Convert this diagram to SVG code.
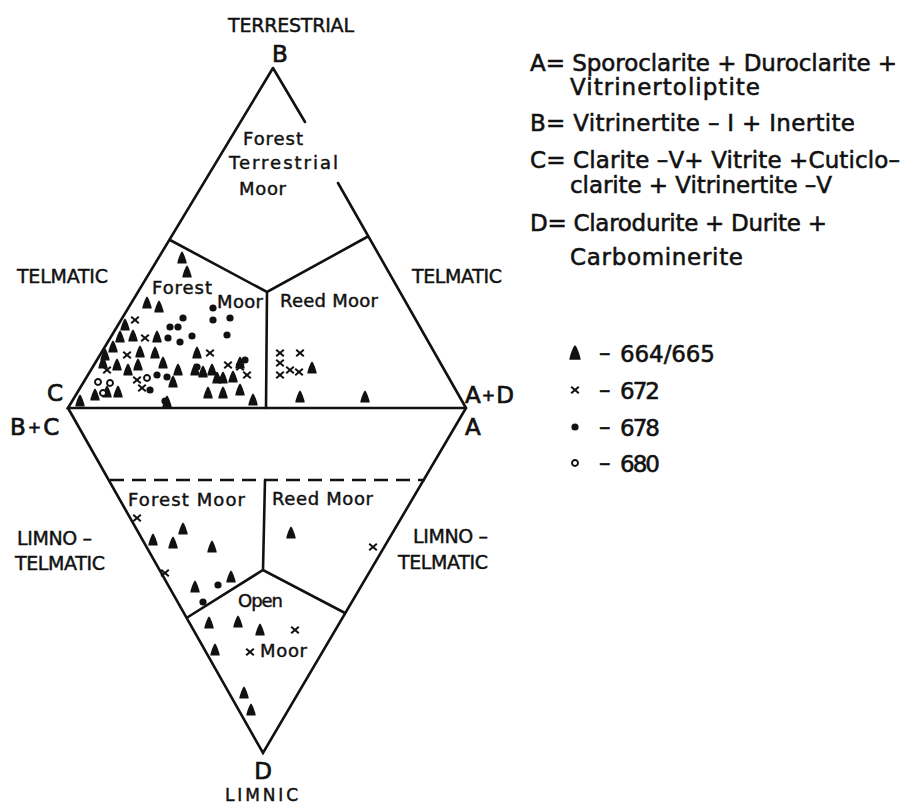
<svg xmlns="http://www.w3.org/2000/svg" width="906" height="806" viewBox="0 0 906 806">
<style>
.ln{fill:none;stroke:#111;stroke-width:2.6;stroke-linejoin:miter;stroke-linecap:round}
.ds{fill:none;stroke:#111;stroke-width:2.6;stroke-dasharray:14 8}
text{font-family:"DejaVu Sans","Liberation Sans",sans-serif;fill:#111;stroke:#111;stroke-width:0.45}
.lab{font-size:18px}
.cap{font-size:19px}
.big{font-size:23px;stroke-width:0.7}
.pl{font-size:16px}
.leg{font-size:23px;stroke-width:0.55}
</style>
<defs>
<path id="tri" d="M0,-6.5 C1.2,-6.5 4.7,3 4.7,5.6 L-4.7,5.6 C-4.7,3 -1.2,-6.5 0,-6.5 Z" fill="#111"/>
<path id="x" d="M-3.8,-3.3 L3.8,3.3 M-3.8,3.3 L3.8,-3.3" stroke="#111" stroke-width="2" fill="none"/>
<circle id="dot" r="3.6" fill="#111"/>
<circle id="ring" r="3" fill="#fff" stroke="#111" stroke-width="1.9"/>
</defs>
<rect width="906" height="806" fill="#fff"/>

<g id="connectors">
<path class="ln" d="M273,68 L68,408 L466,408 M273,68 L305,122 M338,183 L466,408"/>
<path class="ln" d="M170,240 L267,292 L367,237 M267,292 L266,408"/>
<path class="ln" d="M68,408 L263,753 L466,408"/>
<path class="ds" d="M110,480 L425,480"/>
<path class="ln" d="M265,480 L263,570 M188,617 L263,570 L345,613"/>
</g>

<g id="vertex-labels">
<text class="cap" x="228" y="32" textLength="126">TERRESTRIAL</text>
<text class="big" x="280" y="62" text-anchor="middle">B</text>
<text class="big" x="55" y="401" text-anchor="middle">C</text>
<text class="big" x="10" y="435">B<tspan class="pl" dx="2" dy="-2">+</tspan><tspan dx="2" dy="2">C</tspan></text>
<text class="big" x="465" y="403">A<tspan class="pl" dx="1" dy="-2">+</tspan><tspan dx="1" dy="2">D</tspan></text>
<text class="big" x="465" y="435">A</text>
<text class="big" x="263" y="779" text-anchor="middle">D</text>
<text class="cap" x="225" y="801" textLength="73" style="font-size:17px">LIMNIC</text>
<text class="cap" x="17" y="283" textLength="91">TELMATIC</text>
<text class="cap" x="412" y="283" textLength="90">TELMATIC</text>
<text class="cap" x="17" y="545" textLength="75">LIMNO –</text>
<text class="cap" x="15" y="570" textLength="90">TELMATIC</text>
<text class="cap" x="413" y="543" textLength="75">LIMNO –</text>
<text class="cap" x="398" y="569" textLength="90">TELMATIC</text>
</g>

<g id="forest-terrestrial-moor">
<text class="lab" x="243" y="145" textLength="60">Forest</text>
<text class="lab" x="229" y="169" textLength="109">Terrestrial</text>
<text class="lab" x="239" y="195" textLength="47">Moor</text>
</g>

<g id="telmatic-forest-moor">
<text class="lab" x="152" y="294" textLength="60">Forest</text>
<text class="lab" x="217" y="308" textLength="46">Moor</text>
<g id="pts-tfm">
<use href="#tri" x="182" y="258"/><use href="#tri" x="187" y="272"/>
<use href="#tri" x="147" y="303"/><use href="#tri" x="159" y="307"/>
<use href="#tri" x="125" y="325"/><use href="#tri" x="120" y="337"/>
<use href="#tri" x="133" y="336"/><use href="#tri" x="157" y="337"/>
<use href="#tri" x="113" y="347"/><use href="#tri" x="140" y="352"/>
<use href="#tri" x="155" y="353"/><use href="#tri" x="105" y="355"/>
<use href="#tri" x="197" y="353"/><use href="#tri" x="103" y="363"/>
<use href="#tri" x="117" y="365"/><use href="#tri" x="128" y="370"/>
<use href="#tri" x="138" y="365"/><use href="#tri" x="163" y="363"/>
<use href="#tri" x="178" y="370"/><use href="#tri" x="195" y="370"/>
<use href="#tri" x="203" y="372"/><use href="#tri" x="212" y="370"/>
<use href="#tri" x="217" y="378"/><use href="#tri" x="223" y="378"/>
<use href="#tri" x="233" y="377"/><use href="#tri" x="240" y="363"/>
<use href="#tri" x="173" y="382"/><use href="#tri" x="107" y="392"/>
<use href="#tri" x="95" y="395"/><use href="#tri" x="118" y="392"/>
<use href="#tri" x="208" y="393"/><use href="#tri" x="223" y="393"/>
<use href="#tri" x="240" y="390"/><use href="#tri" x="253" y="400"/>
<use href="#tri" x="80" y="401"/><use href="#tri" x="167" y="402"/>
<use href="#x" x="135" y="320"/><use href="#x" x="145" y="338"/>
<use href="#x" x="127" y="355"/><use href="#x" x="107" y="370"/>
<use href="#x" x="137" y="380"/><use href="#x" x="142" y="388"/>
<use href="#x" x="210" y="353"/><use href="#x" x="228" y="365"/>
<use href="#x" x="247" y="375"/><use href="#x" x="240" y="367"/>
<use href="#dot" x="213" y="308"/><use href="#dot" x="183" y="318"/>
<use href="#dot" x="213" y="320"/><use href="#dot" x="230" y="318"/>
<use href="#dot" x="170" y="327"/><use href="#dot" x="178" y="327"/>
<use href="#dot" x="192" y="336"/><use href="#dot" x="227" y="335"/>
<use href="#dot" x="168" y="338"/><use href="#dot" x="180" y="342"/>
<use href="#dot" x="157" y="375"/><use href="#dot" x="167" y="377"/>
<use href="#dot" x="197" y="367"/><use href="#dot" x="150" y="390"/>
<use href="#dot" x="165" y="401"/><use href="#dot" x="245" y="360"/>
<use href="#ring" x="98" y="382"/><use href="#ring" x="110" y="383"/>
<use href="#ring" x="103" y="393"/><use href="#ring" x="147" y="378"/>
</g>
</g>

<g id="telmatic-reed-moor">
<text class="lab" x="280" y="307" textLength="98">Reed Moor</text>
<use href="#x" x="280" y="353"/><use href="#x" x="300" y="353"/>
<use href="#x" x="280" y="363"/><use href="#x" x="290" y="370"/>
<use href="#x" x="280" y="375"/><use href="#x" x="299" y="372"/>
<use href="#tri" x="312" y="368"/><use href="#tri" x="300" y="397"/>
<use href="#tri" x="365" y="397"/>
</g>

<g id="limno-forest-moor">
<text class="lab" x="128" y="506" textLength="117">Forest Moor</text>
<use href="#x" x="137" y="518"/><use href="#x" x="165" y="573"/>
<use href="#tri" x="183" y="529"/><use href="#tri" x="153" y="540"/>
<use href="#tri" x="173" y="543"/><use href="#tri" x="212" y="547"/>
<use href="#tri" x="195" y="587"/><use href="#tri" x="231" y="577"/>
<use href="#dot" x="218" y="585"/><use href="#dot" x="203" y="602"/>
</g>

<g id="limno-reed-moor">
<text class="lab" x="272" y="505" textLength="101">Reed Moor</text>
<use href="#tri" x="291" y="533"/>
<use href="#x" x="373" y="547"/>
</g>

<g id="open-moor">
<text class="lab" x="238" y="607" textLength="45">Open</text>
<text class="lab" x="260" y="657" textLength="47">Moor</text>
<use href="#tri" x="209" y="623"/><use href="#tri" x="238" y="622"/>
<use href="#tri" x="260" y="630"/><use href="#tri" x="215" y="650"/>
<use href="#tri" x="244" y="693"/><use href="#tri" x="251" y="710"/>
<use href="#x" x="295" y="630"/><use href="#x" x="250" y="652"/>
</g>

<g id="legend-definitions">
<text class="leg" x="530" y="71" textLength="367">A= Sporoclarite + Duroclarite +</text>
<text class="leg" x="570" y="95" textLength="190">Vitrinertoliptite</text>
<text class="leg" x="530" y="131" textLength="325">B= Vitrinertite – I + Inertite</text>
<text class="leg" x="530" y="168" textLength="370">C= Clarite –V+ Vitrite +Cuticlo–</text>
<text class="leg" x="570" y="193" textLength="262">clarite + Vitrinertite –V</text>
<text class="leg" x="530" y="231" textLength="297">D= Clarodurite + Durite +</text>
<text class="leg" x="570" y="265" textLength="173">Carbominerite</text>
</g>

<g id="legend-symbols">
<use href="#tri" transform="translate(575,353) scale(1.2)"/>
<text class="leg" x="599" y="361">–</text>
<text class="leg" x="620" y="362" textLength="95">664/665</text>
<use href="#x" x="575" y="390"/>
<text class="leg" x="599" y="398">–</text>
<text class="leg" x="620" y="399" textLength="40">672</text>
<use href="#dot" x="575" y="427"/>
<text class="leg" x="599" y="435">–</text>
<text class="leg" x="620" y="436" textLength="40">678</text>
<use href="#ring" x="575" y="463"/>
<text class="leg" x="599" y="471">–</text>
<text class="leg" x="620" y="472" textLength="40">680</text>
</g>
</svg>
